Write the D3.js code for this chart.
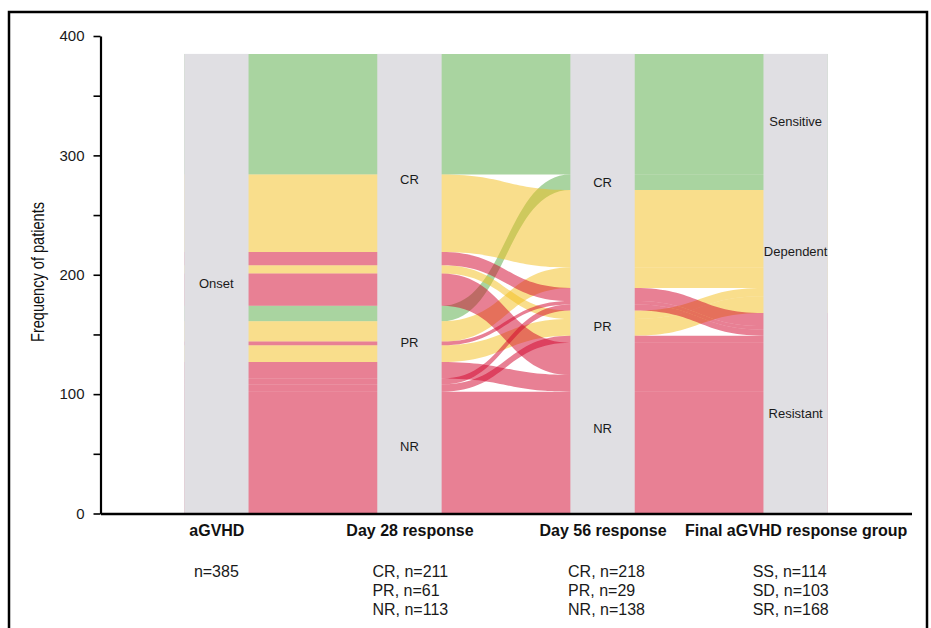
<!DOCTYPE html>
<html><head><meta charset="utf-8">
<script src="https://cdn.jsdelivr.net/npm/d3@7"></script>
<style>
body{margin:0;background:#fff}
svg{display:block}
text{font-family:"Liberation Sans", Arial, Helvetica, sans-serif}
</style>
</head><body>
<svg id="chart" width="931" height="628"></svg>
<script>
// ---------- data ----------
const axisNames = ["aGVHD", "Day 28 response", "Day 56 response", "Final aGVHD response group"];
const onsetLevels = ["Onset"];
const day28Levels = ["CR", "PR", "NR"];
const day56Levels = ["CR", "PR", "NR"];
const finalLevels = ["Sensitive", "Dependent", "Resistant"];

// one entry per alluvium (patient path)
const day28      = ["CR","CR","CR","CR","CR","PR","PR","PR","PR","PR","NR","NR","NR"];
const day56      = ["CR","CR","CR","PR","NR","CR","CR","CR","PR","NR","CR","PR","NR"];
const finalGroup = ["Sensitive","Dependent","Resistant","Dependent","Resistant",
                    "Sensitive","Dependent","Resistant","Dependent","Resistant",
                    "Resistant","Resistant","Resistant"];
const counts     = [101, 65, 11, 7, 27, 13, 17, 3, 14, 14, 5, 6, 102];

const nLabels = [
  ["n=385"],
  ["CR, n=211", "PR, n=61", "NR, n=113"],
  ["CR, n=218", "PR, n=29", "NR, n=138"],
  ["SS, n=114", "SD, n=103", "SR, n=168"]
];
const yTicks = [0, 50, 100, 150, 200, 250, 300, 350, 400];
const yLabelTicks = [0, 100, 200, 300, 400];
const yTitle = "Frequency of patients";

const fillColors = {Sensitive: "#53A941", Dependent: "#F3BD19", Resistant: "#D10129"};
const stratumFill = "#E0DFE3";

// ---------- setup ----------
const svg = d3.select("#chart");
const x = d3.scaleLinear().domain([0.4, 4.6]).range([100.5, 911.5]);
const y = d3.scaleLinear().domain([0, 400]).range([513.5, 36]);

// outer frame
svg.append("rect").attr("x", 9).attr("y", 12).attr("width", 918).attr("height", 660)
  .attr("fill", "none").attr("stroke", "#000").attr("stroke-width", 2.5);

const N = counts.length;
const vals = [d3.range(N).map(() => "Onset"), day28, day56, finalGroup];
const levels = [onsetLevels, day28Levels, day56Levels, finalLevels];
const total = d3.sum(counts);

function zig(a) {
  const out = [];
  for (let k = 1; k < 4; k++) {
    if (a + k < 4) out.push(a + k);
    if (a - k >= 0) out.push(a - k);
  }
  return out;
}

const pos = levels.map((lv, a) => {
  const keys = [a, ...zig(a)];
  const order = d3.range(N).sort((i, j) => {
    for (const b of keys) {
      const d = levels[b].indexOf(vals[b][i]) - levels[b].indexOf(vals[b][j]);
      if (d) return d;
    }
    return i - j;
  });
  const p = new Array(N);
  let cum = total;
  for (const i of order) { p[i] = {top: cum, bot: cum - counts[i]}; cum -= counts[i]; }
  return p;
});

const hw = 1 / 6;
function ribbon(i) {
  const p = d3.path();
  for (let a = 0; a < 4; a++) {
    const yt = y(pos[a][i].top), xl = x(a + 1 - hw), xr = x(a + 1 + hw);
    if (a === 0) p.moveTo(xl, yt);
    else {
      const xp = x(a + hw), yp = y(pos[a - 1][i].top), m = (xl - xp) / 2;
      p.bezierCurveTo(xp + m, yp, xl - m, yt, xl, yt);
    }
    p.lineTo(xr, yt);
  }
  for (let a = 3; a >= 0; a--) {
    const yb = y(pos[a][i].bot), xl = x(a + 1 - hw), xr = x(a + 1 + hw);
    if (a === 3) p.lineTo(xr, yb);
    else {
      const xn = x(a + 2 - hw), yn = y(pos[a + 1][i].bot), m = (xn - xr) / 2;
      p.bezierCurveTo(xn - m, yn, xr + m, yb, xr, yb);
    }
    p.lineTo(xl, yb);
  }
  p.closePath();
  return p.toString();
}

const drawOrder = d3.range(N).sort((i, j) =>
  (finalLevels.indexOf(finalGroup[i]) - finalLevels.indexOf(finalGroup[j])) || (i - j));

svg.append("g").selectAll("path").data(drawOrder).join("path")
  .attr("d", ribbon)
  .attr("fill", i => fillColors[finalGroup[i]])
  .attr("fill-opacity", 0.5);

// strata
const strata = [];
levels.forEach((lv, a) => {
  lv.forEach(l => {
    const idx = d3.range(N).filter(i => vals[a][i] === l);
    if (!idx.length) return;
    strata.push({a, l, top: d3.max(idx, i => pos[a][i].top), bot: d3.min(idx, i => pos[a][i].bot)});
  });
});
const columns = levels.map((lv, a) => ({
  a, top: d3.max(strata.filter(s => s.a === a), s => s.top), bot: d3.min(strata.filter(s => s.a === a), s => s.bot)
}));
const sg = svg.append("g");
sg.selectAll("rect").data(columns).join("rect")
  .attr("x", d => x(d.a + 1 - hw)).attr("width", d => x(d.a + 1 + hw) - x(d.a + 1 - hw))
  .attr("y", d => y(d.top)).attr("height", d => y(d.bot) - y(d.top))
  .attr("fill", stratumFill);
sg.selectAll("text").data(strata).join("text")
  .attr("x", d => x(d.a + 1)).attr("y", d => y((d.top + d.bot) / 2))
  .attr("text-anchor", "middle").attr("dominant-baseline", "central")
  .attr("font-size", 13).attr("fill", "#1a1a1a").text(d => d.l);

// y axis
const yAxis = d3.axisLeft(y).tickValues(yTicks)
  .tickFormat(d => yLabelTicks.includes(d) ? d : "")
  .tickSize(7).tickSizeOuter(0).tickPadding(9);
const gy = svg.append("g").attr("transform", `translate(${x(0.4)},0)`).call(yAxis);
gy.select(".domain").attr("stroke-width", 2.2);
gy.selectAll(".tick line").attr("stroke-width", 1.6);
gy.selectAll(".tick text").attr("font-size", 15).attr("fill", "#1a1a1a")
  .attr("font-family", '"Liberation Sans", Arial, sans-serif');

// x axis
const xAxis = d3.axisBottom(x).tickValues([1, 2, 3, 4])
  .tickFormat(d => axisNames[d - 1]).tickSize(0).tickSizeOuter(0).tickPadding(11);
const gx = svg.append("g").attr("transform", `translate(0,${y(0)})`).call(xAxis);
gx.select(".domain").attr("stroke-width", 2.5);
gx.selectAll(".tick text").attr("font-size", 16).attr("font-weight", "bold").attr("fill", "#111")
  .attr("font-family", '"Liberation Sans", Arial, sans-serif');

// n labels (left-aligned text blocks below each axis)
const blockOffset = [0, -37, -34.5, -43];
const ng = svg.append("g");
nLabels.forEach((lines, a) => {
  lines.forEach((t, k) => {
    ng.append("text")
      .attr("x", x(a + 1) + blockOffset[a]).attr("y", 571 + k * 19)
      .attr("text-anchor", a === 0 ? "middle" : "start").attr("dominant-baseline", "central")
      .attr("font-size", 16).attr("fill", "#1a1a1a").text(t);
  });
});

// y title
svg.append("text").attr("transform", "translate(38,272) rotate(-90)")
  .attr("text-anchor", "middle").attr("dominant-baseline", "central")
  .attr("font-size", 18).attr("fill", "#111")
  .attr("textLength", 140).attr("lengthAdjust", "spacingAndGlyphs")
  .text(yTitle);
</script>
</body></html>
